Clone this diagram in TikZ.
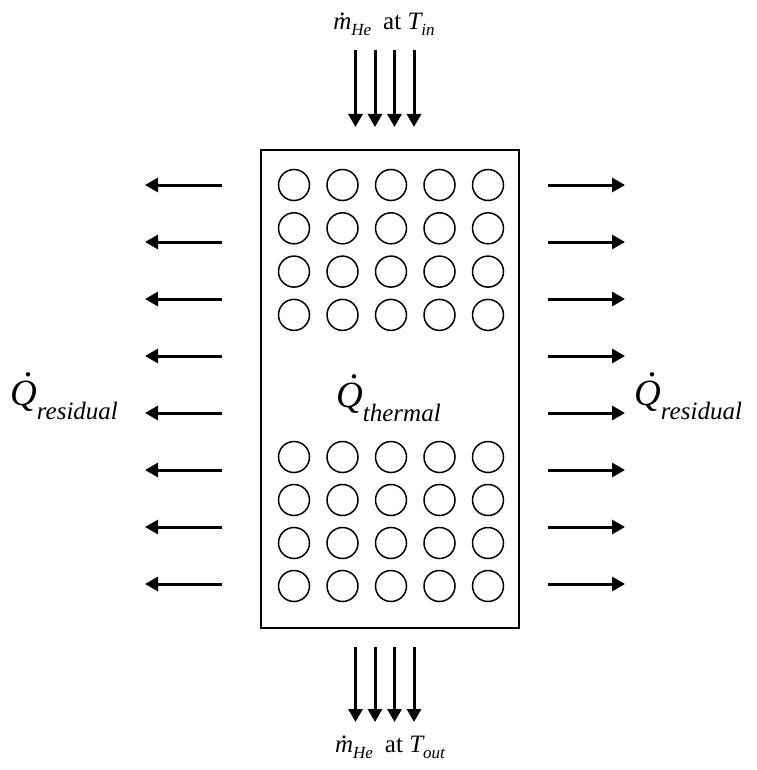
\documentclass[tikz,border=0pt]{standalone}
\usepackage{fontspec}
\setmainfont{Liberation Serif}
\usetikzlibrary{arrows.meta}
\tikzset{
  vessel/.style={rectangle, draw, line width=1.5pt, minimum width=258pt,
                 minimum height=478pt, inner sep=0pt},
  tube/.style={circle, draw, line width=1.5pt, minimum size=31pt, inner sep=0pt},
  flow/.style={line width=3pt, -{Triangle[length=13pt, width=14pt]}},
  heat/.style={line width=3pt, -{Triangle[length=13pt, width=14pt]}},
  lbl/.style={inner sep=0pt, font=\fontsize{25}{30}\selectfont},
  qlbl/.style={inner sep=0pt}
}
\newcommand\dotover[3]{\ooalign{#1\cr\hidewidth\kern#3\raisebox{#2}{.}\hidewidth\cr}}
\newcommand\mflow{{\itshape\dotover{m}{0.56em}{0.05em}}\raisebox{-6pt}{\fontsize{17}{17}\selectfont\itshape He}}
\newcommand\qflow[1]{{\fontsize{37}{40}\selectfont\itshape\dotover{Q}{0.78em}{0.3em}}%
  \raisebox{-14pt}{\fontsize{25}{28}\selectfont\itshape #1}}

\begin{document}
\begin{tikzpicture}[x=1pt, y=-1pt]
  \useasboundingbox (0,0) rectangle (756,770);
  \node[vessel] (vessel) at (390,389) {};
  \foreach \i in {0,...,4}
    \foreach \j in {0,...,3} {
      \node[tube] (t-\i-\j) at ({294+48.5*\i},{185+43.3*\j}) {};
      \node[tube] (b-\i-\j) at ({294+48.5*\i},{457+43*\j}) {};
    }
  \foreach \i in {0,...,3} {
    \coordinate (ia\i) at ({355.5+19.5*\i},50);
    \coordinate (ib\i) at ({355.5+19.5*\i},127);
    \draw[flow] (ia\i) -- (ib\i);
    \coordinate (oa\i) at ({355.5+19.5*\i},647);
    \coordinate (ob\i) at ({355.5+19.5*\i},722);
    \draw[flow] (oa\i) -- (ob\i);
  }
  \foreach \k in {0,...,7} {
    \coordinate (la\k) at (222,{185+57*\k});
    \coordinate (lb\k) at (145,{185+57*\k});
    \draw[heat] (la\k) -- (lb\k);
    \coordinate (ra\k) at (548,{185+57*\k});
    \coordinate (rb\k) at (625,{185+57*\k});
    \draw[heat] (ra\k) -- (rb\k);
  }
  \node[lbl, anchor=base] (inlet) at (384,30)
    {\mflow\hspace{12pt}at {\itshape T}\raisebox{-6pt}{\fontsize{17}{17}\selectfont\itshape in}};
  \node[lbl, anchor=base] (outlet) at (390,752)
    {\mflow\hspace{12pt}at {\itshape T}\raisebox{-6pt}{\fontsize{17}{17}\selectfont\itshape out}};
  \node[qlbl, anchor=base west] (qleft) at (10,405) {\qflow{residual}};
  \node[qlbl, anchor=base west] (qright) at (634,405) {\qflow{residual}};
  \node[qlbl, anchor=base west] (qcore) at (336,407) {\qflow{thermal}};
\end{tikzpicture}
\end{document}
